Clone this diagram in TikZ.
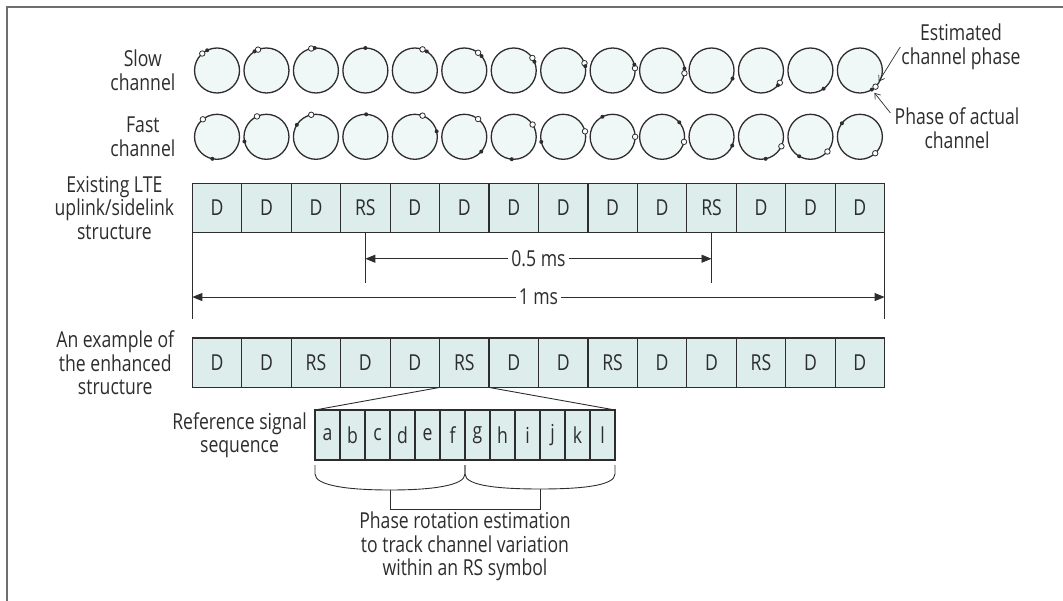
\documentclass[tikz,border=0pt]{standalone}
\usepackage{fontspec}
\setmainfont{Open Sans}[FakeStretch=0.8]
\usepackage{tikz}
\usetikzlibrary{arrows.meta,positioning,calc}

\definecolor{slotfill}{RGB}{220,237,236}
\definecolor{phasefill}{RGB}{240,247,247}
\definecolor{inkgray}{RGB}{45,45,45}
\definecolor{framegray}{RGB}{110,110,110}

\tikzset{
  lbl/.style={align=center,text=inkgray,font=\fontsize{22}{23.5}\selectfont,inner sep=1pt},
  slot/.style={draw=inkgray,fill=slotfill,line width=1.2pt,minimum width=49.45pt,
    minimum height=49.5pt,inner sep=0pt,outer sep=0pt,text=inkgray,font=\fontsize{22}{23.5}\selectfont},
  seq/.style={slot,minimum width=25pt,minimum height=50pt},
  phase/.style={circle,draw=inkgray,fill=phasefill,line width=1.3pt,minimum size=45pt,
    inner sep=0pt,outer sep=0pt},
  estdot/.style={circle,draw=inkgray,fill=white,line width=0.8pt,minimum size=5.5pt,inner sep=0pt},
  realdot/.style={circle,fill=inkgray,minimum size=4pt,inner sep=0pt},
  guide/.style={draw=inkgray,line width=0.9pt},
  dim/.style={guide,{Triangle[length=10pt,width=8pt]}-{Triangle[length=10pt,width=8pt]}},
  pointer/.style={guide,line width=0.7pt,-{Straight Barb[length=5pt,width=7pt]}},
}

\begin{document}
\begin{tikzpicture}[x=1pt,y=-1pt]
\useasboundingbox (0,0) rectangle (1063,601);
\draw[framegray,line width=1.2pt] (7,601) -- (7,7) -- (1063,7);

% phase circles: estimated (open) and actual (filled) angle per symbol
% (the open dot is left out where both phases coincide)
\foreach \e/\r [count=\i] in {131/116,112/122,102/93,90/90,70/58,52/40,34/23,
    19/11,6/15,353/5,339/339,327/319,306/306,314/302}{
  \node[phase] (sc\i) at ({192.3+(\i-0.5)*49.45},70.5) {};
  \pgfmathtruncatemacro\gap{abs(\e-\r)}
  \ifnum\gap>2 \node[estdot] (se\i) at (sc\i.\e) {};\fi
  \node[realdot] (sr\i) at (sc\i.\r) {};
}
\foreach \e/\r [count=\i] in {129/258,115/192,102/148,88/88,70/14,52/319,33/265,
    14/193,0/117,347/40,337/337,335/282,319/240,313/143}{
  \node[phase] (fc\i) at ({192.3+(\i-0.5)*49.45},136.8) {};
  \pgfmathtruncatemacro\gap{abs(\e-\r)}
  \ifnum\gap>2 \node[estdot] (fe\i) at (fc\i.\e) {};\fi
  \node[realdot] (fr\i) at (fc\i.\r) {};
}

% subframe rows
\foreach \t [count=\i] in {D,D,D,RS,D,D,D,D,D,D,RS,D,D,D}
  \node[slot] (d\i) at ({192.3+(\i-0.5)*49.45},208) {\t};
\foreach \t [count=\i] in {D,D,RS,D,D,RS,D,D,RS,D,D,RS,D,D}
  \node[slot] (e\i) at ({192.3+(\i-0.5)*49.45},362.7) {\t};
\foreach \t [count=\i] in {a,b,c,d,e,f,g,h,i,j,k,l}
  \node[seq] (s\i) at ({315+(\i-0.5)*25},435) {\t};

% row labels
\node[lbl,left=18pt of sc1] (slow) {Slow\\channel};
\node[lbl,left=18pt of fc1] (fast) {Fast\\channel};
\node[lbl,left=17pt of d1] (lte) {Existing LTE\\uplink/sidelink\\structure};
\node[lbl,left=17pt of e1] (enh) {An example of\\the enhanced\\structure};
\node[lbl,left=7pt of s1] (refseq) {Reference signal\\sequence};
\node[lbl] (est) at (961,47) {Estimated\\channel phase};
\node[lbl] (act) at (957,128) {Phase of actual\\channel};

\draw[pointer,shorten >=3pt] (est.west) -- (se14);
\draw[pointer,shorten <=5pt,shorten >=2pt] (act.170) -- (sr14);

% timing marks
\coordinate (t1) at ($(d1.south west)+(0,86)$);
\coordinate (t2) at ($(d14.south east)+(0,86)$);
\coordinate (r1) at ($(d4.south)+(0,50)$);
\coordinate (r2) at ($(d11.south)+(0,50)$);
\coordinate (h1) at ($(d4.south)+(0,26)$);
\coordinate (h2) at ($(d11.south)+(0,26)$);
\coordinate (m1) at ($(d1.south west)+(0,64.3)$);
\coordinate (m2) at ($(d14.south east)+(0,64.3)$);
\draw[guide] (d1.south west) -- (t1);
\draw[guide] (d14.south east) -- (t2);
\draw[guide] (d4.south) -- (r1);
\draw[guide] (d11.south) -- (r2);
\draw[dim] (h1) -- node[lbl,fill=white,inner sep=3pt] {0.5 ms} (h2);
\draw[dim] (m1) -- node[lbl,fill=white,inner sep=3pt] {1 ms} (m2);

% zoom into the middle RS symbol
\draw[guide] (e6.south west) -- (s1.north west);
\draw[guide] (e6.south east) -- (s12.north east);

% braces over both halves, joined below
\draw[guide] (315,465) -- (315,474) .. controls (315,486) and (350,490) .. (390,490)
  .. controls (430,490) and (465,486) .. (465,474) -- (465,465);
\draw[guide] (465,465) -- (465,474) .. controls (465,486) and (500,489) .. (540,489)
  .. controls (580,489) and (615,486) .. (615,474) -- (615,465);
\draw[guide] (390,490) -- (390,509) -- (540,509) -- (540,489);
\coordinate (joint) at (465,511);
\node[lbl,below=0pt of joint] (note)
  {Phase rotation estimation\\to track channel variation\\within an RS symbol};
\end{tikzpicture}
\end{document}
